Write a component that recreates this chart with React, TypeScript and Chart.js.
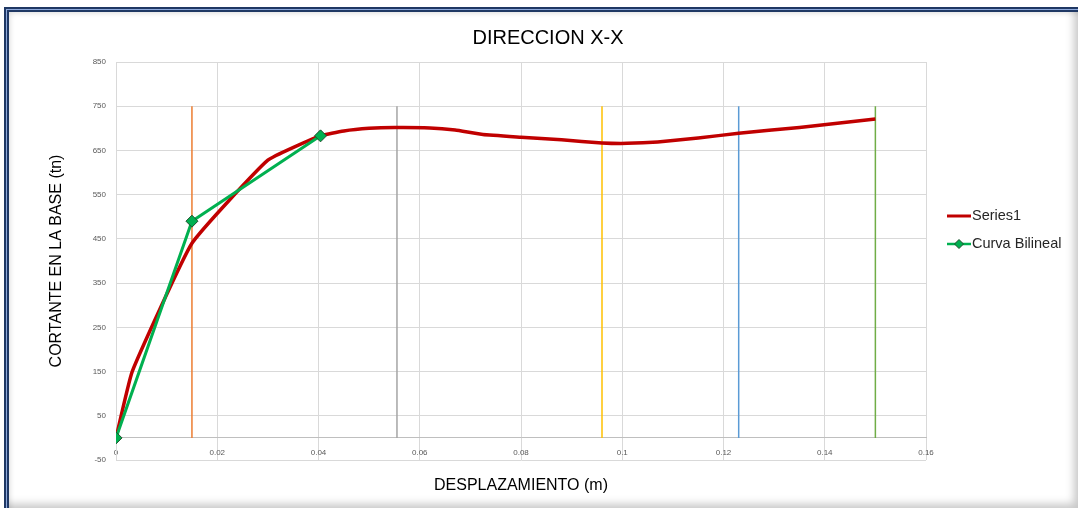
import React, { useEffect, useRef } from "react";
import { Chart, registerables } from "chart.js";

Chart.register(...registerables);

// ---- Data ----
const chartTitle = "DIRECCION X-X";
const xAxisTitle = "DESPLAZAMIENTO (m)";
const yAxisTitle = "CORTANTE EN LA BASE (tn)";

const series1Label = "Series1";
const series1X = [0, 0.0032, 0.015, 0.03, 0.0403, 0.045, 0.05, 0.055, 0.062, 0.067, 0.0725, 0.08, 0.088, 0.096, 0.101, 0.107, 0.115, 0.123, 0.135, 0.15];
const series1Y = [0, 150, 440, 628, 683, 694, 700, 702, 701, 696, 686, 680, 674, 667, 666, 669, 678, 689, 702, 721];

const bilinealLabel = "Curva Bilineal";
const bilinealX = [0, 0.015, 0.0404];
const bilinealY = [0, 490, 683];

const verticalX = [0.015, 0.0555, 0.096, 0.123, 0.15];
const verticalColors = ["#ED7D31", "#A5A5A5", "#FFC000", "#5B9BD5", "#70AD47"];
const verticalBottom = 0;
const verticalTop = 750;

const yMin = -50;
const yMax = 850;
const yStep = 100;
const xMin = 0;
const xMax = 0.16;
const xStep = 0.02;

const FONT = "'Liberation Sans', Arial, sans-serif";

const legendPlugin = {
  id: "customLegend",
  afterDraw(chart: any) {
    const ctx = chart.ctx;
    const items = [
      { label: series1Label, color: "#C00000", marker: false, y: 216 },
      { label: bilinealLabel, color: "#00B050", marker: true, y: 244 },
    ];
    const x0 = 947;
    const x1 = 971;
    ctx.save();
    for (const it of items) {
      ctx.strokeStyle = it.color;
      ctx.lineWidth = it.marker ? 2.5 : 3;
      ctx.beginPath();
      ctx.moveTo(x0, it.y);
      ctx.lineTo(x1, it.y);
      ctx.stroke();
      if (it.marker) {
        const cx = (x0 + x1) / 2;
        const r = 4.5;
        ctx.beginPath();
        ctx.moveTo(cx, it.y - r);
        ctx.lineTo(cx + r, it.y);
        ctx.lineTo(cx, it.y + r);
        ctx.lineTo(cx - r, it.y);
        ctx.closePath();
        ctx.fillStyle = "#00B050";
        ctx.fill();
        ctx.strokeStyle = "#1F4E2C";
        ctx.lineWidth = 1;
        ctx.stroke();
      }
      ctx.fillStyle = "#262626";
      ctx.font = `14.5px ${FONT}`;
      ctx.textBaseline = "middle";
      ctx.textAlign = "left";
      ctx.fillText(it.label, x1 + 1, it.y);
    }
    ctx.restore();
  },
};

export default function App() {
  const canvasRef = useRef<HTMLCanvasElement | null>(null);

  useEffect(() => {
    const canvas = canvasRef.current;
    if (!canvas) return;

    const datasets: any[] = [
      {
        label: series1Label,
        data: series1X.map((x, i) => ({ x, y: series1Y[i] })),
        showLine: true,
        borderColor: "#C00000",
        backgroundColor: "#C00000",
        borderWidth: 3.5,
        pointRadius: 0,
        tension: 0.12,
        order: 1,
      },
      {
        label: bilinealLabel,
        data: bilinealX.map((x, i) => ({ x, y: bilinealY[i] })),
        showLine: true,
        borderColor: "#00B050",
        backgroundColor: "#00B050",
        borderWidth: 3,
        pointStyle: "rectRot",
        pointRadius: 6,
        pointBackgroundColor: "#00B050",
        pointBorderColor: "#1F4E2C",
        pointBorderWidth: 1,
        order: 0,
      },
      ...verticalX.map((x, i) => ({
        label: "v" + i,
        data: [
          { x, y: verticalBottom },
          { x, y: verticalTop },
        ],
        showLine: true,
        borderColor: verticalColors[i],
        backgroundColor: verticalColors[i],
        borderWidth: 1.5,
        pointRadius: 0,
        order: 2,
      })),
    ];

    const chart = new Chart(canvas, {
      type: "scatter",
      data: { datasets },
      plugins: [legendPlugin],
      options: {
        animation: false,
        responsive: false,
        devicePixelRatio: 1,
        layout: { padding: { left: 18, right: 0, top: 0, bottom: 48 } },
        plugins: {
          legend: { display: false },
          tooltip: { enabled: false },
          title: {
            display: true,
            text: chartTitle,
            color: "#000000",
            font: { family: FONT, size: 20, weight: "normal" },
            padding: { top: 26, bottom: 12 },
          },
        },
        scales: {
          x: {
            type: "linear",
            position: { y: 0 } as any,
            min: xMin,
            max: xMax,
            border: { display: true, color: "#BFBFBF", width: 1 },
            grid: { color: "#D9D9D9", drawTicks: false, lineWidth: 1 },
            ticks: {
              stepSize: xStep,
              padding: 10,
              color: "#595959",
              font: { family: FONT, size: 8 },
              maxRotation: 0,
              callback: (v: any) => String(Number(Number(v).toFixed(2))),
            },
            title: {
              display: true,
              text: xAxisTitle,
              color: "#000000",
              font: { family: FONT, size: 16 },
              padding: { top: 9, bottom: 0 },
            },
          },
          y: {
            type: "linear",
            position: "left",
            min: yMin,
            max: yMax,
            border: { display: true, color: "#D9D9D9", width: 1 },
            grid: { color: "#D9D9D9", drawTicks: false, lineWidth: 1 },
            ticks: {
              stepSize: yStep,
              padding: 10,
              color: "#595959",
              font: { family: FONT, size: 8 },
            },
            title: {
              display: true,
              text: yAxisTitle,
              color: "#000000",
              font: { family: FONT, size: 16 },
              padding: { top: 29, bottom: 0 },
            },
            afterFit: (s: any) => {
              s.width = 98;
            },
          },
          y2: {
            type: "linear",
            position: "right",
            display: true,
            grid: { display: false, drawTicks: false },
            border: { display: false },
            ticks: { display: false },
            afterFit: (s: any) => {
              s.width = 152;
            },
          },
        },
      } as any,
    });

    return () => {
      chart.destroy();
    };
  }, []);

  return (
    <div style={{ position: "fixed", left: 0, top: 0, width: 1078, height: 508, background: "#ffffff", overflow: "hidden" }}>
      <div
        style={{
          position: "absolute",
          left: 4,
          top: 7,
          width: 1074,
          height: 501,
          background: "#ffffff",
          boxShadow:
            "inset 2px 2px 0 #1F3864, inset 3px 3px 0 #8EA9DB, inset 5px 5px 0 #1F3864, inset 7px 7px 6px -2px rgba(0,0,0,0.18), inset -7px -7px 8px -3px rgba(0,0,0,0.22)",
        }}
      />
      <canvas
        ref={canvasRef}
        width={1078}
        height={508}
        style={{ position: "absolute", left: 0, top: 0, width: 1078, height: 508 }}
      />
    </div>
  );
}
